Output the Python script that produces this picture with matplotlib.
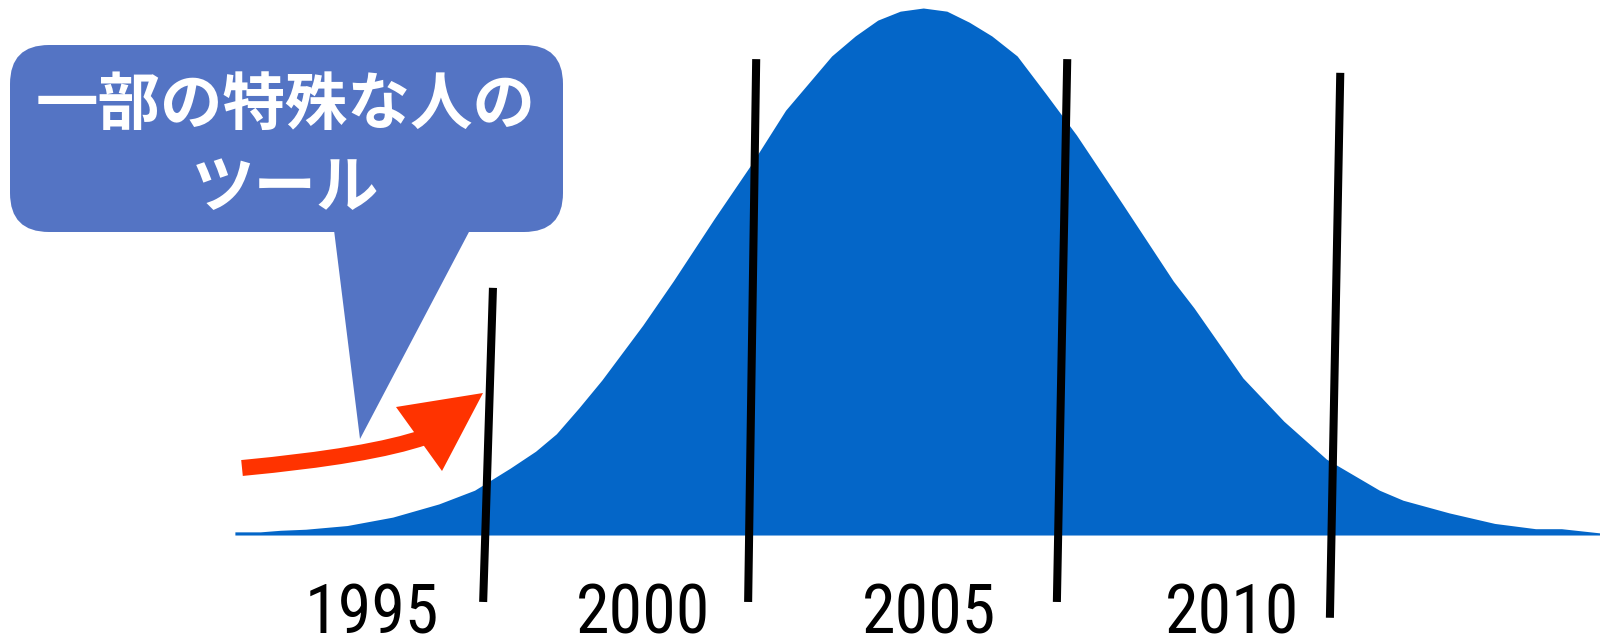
import matplotlib
matplotlib.use("Agg")
import matplotlib.pyplot as plt
from matplotlib import font_manager
from matplotlib.patches import FancyBboxPatch, Polygon, PathPatch
from matplotlib.path import Path

# ---- data (adoption curve) ----
years = [1992.62, 1993.06, 1993.41, 1993.85, 1994.57, 1995.36, 1996.16, 1996.78,
         1997.40, 1997.84, 1998.20, 1998.59, 1998.99, 1999.70, 2000.23, 2000.94,
         2001.60, 2002.18, 2002.98, 2003.39, 2003.78, 2004.17, 2004.57, 2004.98,
         2005.37, 2005.76, 2006.20, 2006.70, 2007.23, 2008.03, 2008.91, 2009.27,
         2010.12, 2010.83, 2011.57, 2012.49, 2012.90, 2013.70, 2014.49, 2015.20,
         2015.65, 2016.32]
adoption = [0.6, 0.6, 0.9, 1.1, 1.8, 3.4, 5.9, 8.5,
            12.7, 15.9, 19.2, 24.1, 29.4, 39.8, 48.2, 60.0,
            70.6, 80.6, 90.9, 94.7, 97.7, 99.4, 100.0, 99.4,
            97.3, 94.7, 90.9, 83.7, 75.9, 62.8, 48.2, 43.1,
            29.8, 21.6, 14.4, 8.5, 6.6, 4.2, 2.2, 1.2,
            1.2, 0.4]

tick_labels = ["1995", "2000", "2005", "2010"]
tick_pos = [1995.0, 1999.70, 2004.67, 2009.93]

# segment divider lines (x/y of top and bottom ends)
divider_top_x = [1997.10, 2001.67, 2007.07, 2011.81]
divider_top_y = [46.9, 90.3, 90.3, 87.7]
divider_bot_x = [1996.93, 2001.53, 2006.89, 2011.63]
divider_bot_y = [-12.7, -12.7, -12.7, -15.7]

bubble_lines = ["一部の特殊な人の", "ツール"]

# ---- pick a narrow font for the year labels ----
installed = {f.name for f in font_manager.fontManager.ttflist}
label_font, label_size = "DejaVu Sans Condensed", 43
for fam, size in [("Roboto Condensed", 49), ("Liberation Sans Narrow", 53)]:
    if fam in installed:
        label_font, label_size = fam, size
        break

# ---- figure ----
fig = plt.figure(figsize=(16, 6.37), dpi=100)
ax = fig.add_axes([0, 0, 1, 1])
ax.set_xlim(1988.542, 2016.319)
ax.set_ylim(-19.35, 101.52)
ax.axis("off")

ax.fill_between(years, adoption, 0, color="#0466C8", lw=0, zorder=1)

for tx, ty, bx, by in zip(divider_top_x, divider_top_y, divider_bot_x, divider_bot_y):
    ax.plot([bx, tx], [by, ty], color="black", lw=5.8, solid_capstyle="butt", zorder=3)

for pos, lab in zip(tick_pos, tick_labels):
    ax.text(pos, -18.7, lab, ha="center", va="baseline", fontsize=label_size,
            family=[label_font, "DejaVu Sans"], color="black", zorder=4)

# ---- annotation overlay (pixel-like layout coordinates) ----
ov = fig.add_axes([0, 0, 1, 1])
ov.set_xlim(0, 1600)
ov.set_ylim(637, 0)
ov.axis("off")
ov.patch.set_alpha(0)

bubble_color = "#5474C4"
ov.add_patch(FancyBboxPatch((10, 45), 553, 187,
                            boxstyle="round,pad=0,rounding_size=39",
                            fc=bubble_color, ec="none", zorder=2))
ov.add_patch(Polygon([(334, 230), (470, 230), (360, 439)], closed=True,
                     fc=bubble_color, ec="none", zorder=2))

ov.text(286, 105, bubble_lines[0], ha="center", va="center", fontsize=45,
        color="white", fontweight="bold", family=["Noto Sans CJK JP", "DejaVu Sans"], zorder=5)
ov.text(286, 188, bubble_lines[1], ha="center", va="center", fontsize=45,
        color="white", fontweight="bold", family=["Noto Sans CJK JP", "DejaVu Sans"], zorder=5)

red = "#FF3300"
shaft = Path([(242, 468), (370, 456), (425, 437)],
             [Path.MOVETO, Path.CURVE3, Path.CURVE3])
ov.add_patch(PathPatch(shaft, fill=False, ec=red, lw=11.5, capstyle="butt", zorder=3))
ov.add_patch(Polygon([(396, 407), (483, 393), (442, 471)], closed=True,
                     fc=red, ec="none", zorder=3))

fig.savefig("out.png", dpi=100)
